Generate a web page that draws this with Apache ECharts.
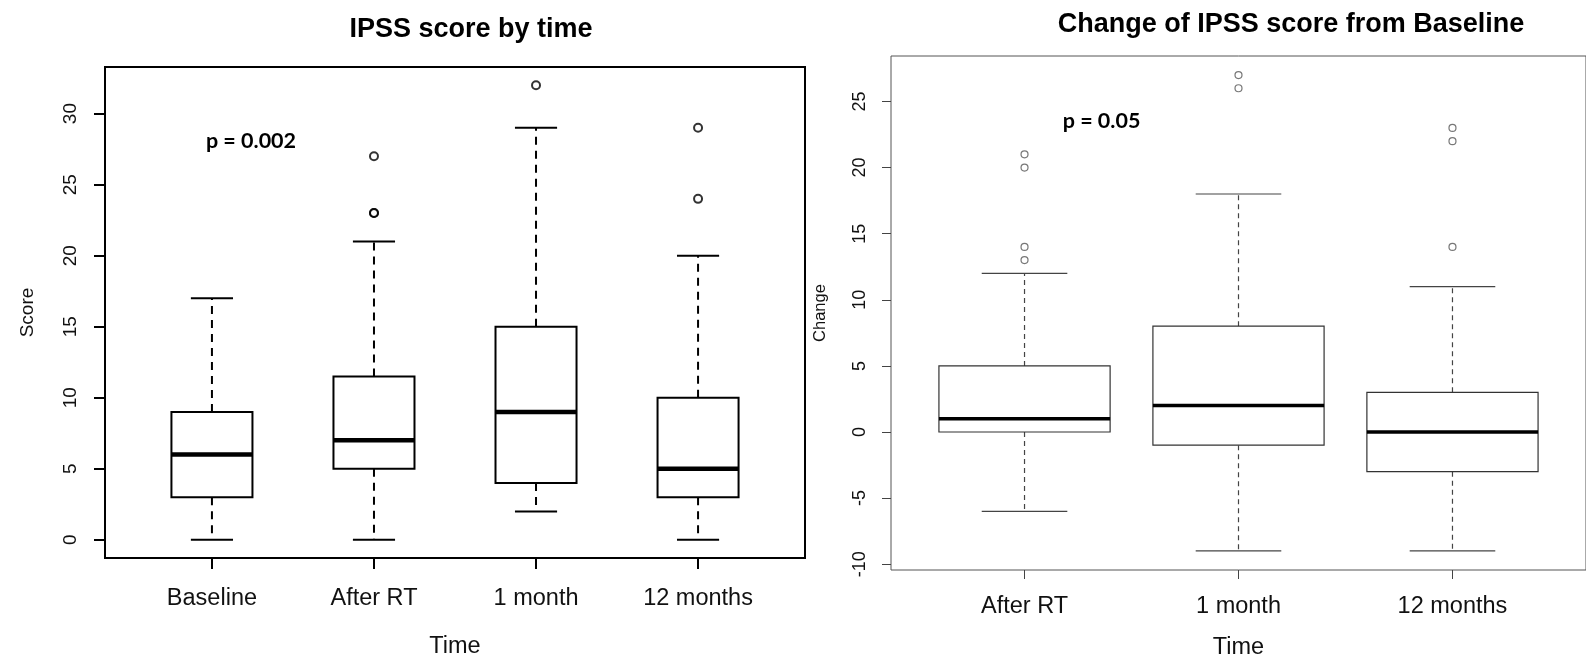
<!DOCTYPE html>
<html>
<head>
<meta charset="utf-8">
<script src="https://cdn.jsdelivr.net/npm/echarts@6/dist/echarts.min.js"></script>
<style>
html,body{margin:0;padding:0;background:#fff;}
#chart{width:1586px;height:665px;}
</style>
</head>
<body>
<div id="chart"></div>
<script>
// ---- Left panel: IPSS score by time ----
const leftCategories = ['Baseline', 'After RT', '1 month', '12 months'];
const leftWhiskerLow = [0, 0, 2, 0];
const leftQ1 = [3, 5, 4, 3];
const leftMedian = [6, 7, 9, 5];
const leftQ3 = [9, 11.5, 15, 10];
const leftWhiskerHigh = [17, 21, 29, 20];
const leftOutliers = [[], [23, 23, 27], [32], [24, 29]];
const leftYTicks = [0, 5, 10, 15, 20, 25, 30];
const leftPText = 'p = 0.002';

// ---- Right panel: Change of IPSS score from Baseline ----
const rightCategories = ['After RT', '1 month', '12 months'];
const rightWhiskerLow = [-6, -9, -9];
const rightQ1 = [0, -1, -3];
const rightMedian = [1, 2, 0];
const rightQ3 = [5, 8, 3];
const rightWhiskerHigh = [12, 18, 11];
const rightOutliers = [[13, 14, 20, 21], [26, 27], [14, 22, 23]];
const rightYTicks = [-10, -5, 0, 5, 10, 15, 20, 25];
const rightPText = 'p = 0.05';

// annotation anchors (data coordinates)
const leftPAnchor = [1.241, 28.1];
const rightPAnchor = [1.36, 23.5];

function boxData(low, q1, med, q3, high) {
  return low.map((v, i) => [i + 1, low[i], q1[i], med[i], q3[i], high[i]]);
}
function outlierData(outs) {
  const d = [];
  outs.forEach((arr, i) => arr.forEach(v => d.push([i + 1, v])));
  return d;
}

function boxRenderer(st) {
  return function (params, api) {
    const x = api.value(0);
    const cLo = api.coord([x, api.value(1)]);
    const cQ1 = api.coord([x, api.value(2)]);
    const cMed = api.coord([x, api.value(3)]);
    const cQ3 = api.coord([x, api.value(4)]);
    const cHi = api.coord([x, api.value(5)]);
    const cx = cMed[0];
    const half = api.size([st.boxHalf, 0])[0];
    const cap = api.size([st.capHalf, 0])[0];
    const wStyle = { stroke: st.whisker, lineWidth: st.lw, lineDash: st.dash, fill: null };
    const sStyle = { stroke: st.whisker, lineWidth: st.lw, fill: null };
    return {
      type: 'group',
      children: [
        { type: 'line', shape: { x1: cx, y1: cQ1[1], x2: cx, y2: cLo[1] }, style: wStyle },
        { type: 'line', shape: { x1: cx, y1: cQ3[1], x2: cx, y2: cHi[1] }, style: wStyle },
        { type: 'line', shape: { x1: cx - cap, y1: cLo[1], x2: cx + cap, y2: cLo[1] }, style: sStyle },
        { type: 'line', shape: { x1: cx - cap, y1: cHi[1], x2: cx + cap, y2: cHi[1] }, style: sStyle },
        { type: 'rect', shape: { x: cx - half, y: cQ3[1], width: 2 * half, height: cQ1[1] - cQ3[1] },
          style: { fill: '#fff', stroke: st.box, lineWidth: st.lw } },
        { type: 'line', shape: { x1: cx - half, y1: cMed[1], x2: cx + half, y2: cMed[1] },
          style: { stroke: '#000', lineWidth: st.medLw } }
      ]
    };
  };
}

function textRenderer(text, size) {
  return function (params, api) {
    const p = api.coord([api.value(0), api.value(1)]);
    return {
      type: 'text', x: p[0], y: p[1],
      style: { text: text, fontSize: size, fontWeight: 'bold', fontFamily: 'Lato', fill: '#000',
               align: 'center', verticalAlign: 'middle' }
    };
  };
}

const FONT = 'Liberation Sans, Arial, sans-serif';

const option = {
  animation: false,
  backgroundColor: '#fff',
  title: [
    { text: 'IPSS score by time', left: 466, top: 11, textAlign: 'center',
      textStyle: { fontFamily: FONT, fontWeight: 'bold', fontSize: 27, color: '#000' } },
    { text: 'Change of IPSS score from Baseline', left: 1286, top: 6, textAlign: 'center',
      textStyle: { fontFamily: FONT, fontWeight: 'bold', fontSize: 27, color: '#000' } }
  ],
  grid: [
    { left: 105, top: 67, width: 700, height: 491, show: true, borderColor: '#000', borderWidth: 2,
      backgroundColor: 'transparent', containLabel: false },
    { left: 891, top: 56, width: 719, height: 517, show: true, borderColor: '#555', borderWidth: 1,
      backgroundColor: 'transparent', containLabel: false }
  ],
  xAxis: [
    { gridIndex: 0, type: 'value', min: 0.34, max: 4.66, position: 'bottom',
      axisLine: { show: false, onZero: false }, splitLine: { show: false },
      axisTick: { show: true, inside: false, customValues: leftCategories.map((c, i) => i + 1), length: 11,
                  lineStyle: { color: '#000', width: 2 } },
      axisLabel: { customValues: leftCategories.map((c, i) => i + 1), margin: 29,
                   formatter: v => leftCategories[Math.round(v) - 1],
                   fontFamily: FONT, fontSize: 23.5, color: '#111' },
      name: 'Time', nameLocation: 'middle', nameGap: 77,
      nameTextStyle: { fontFamily: FONT, fontSize: 23.5, color: '#111' } },
    { gridIndex: 1, type: 'value', min: 0.376, max: 3.624, position: 'bottom',
      axisLine: { show: false, onZero: false }, splitLine: { show: false },
      axisTick: { show: true, inside: false, customValues: rightCategories.map((c, i) => i + 1), length: 9,
                  lineStyle: { color: '#444', width: 1 } },
      axisLabel: { customValues: rightCategories.map((c, i) => i + 1), margin: 25,
                   formatter: v => rightCategories[Math.round(v) - 1],
                   fontFamily: FONT, fontSize: 23.5, color: '#111' },
      name: 'Time', nameLocation: 'middle', nameGap: 66,
      nameTextStyle: { fontFamily: FONT, fontSize: 23.5, color: '#111' } }
  ],
  yAxis: [
    { gridIndex: 0, type: 'value', min: -1.28, max: 33.28, position: 'left',
      axisLine: { show: false, onZero: false }, splitLine: { show: false },
      axisTick: { show: true, customValues: leftYTicks, length: 11, lineStyle: { color: '#000', width: 2 } },
      axisLabel: { customValues: leftYTicks, rotate: 90, margin: 25,
                   fontFamily: FONT, fontSize: 19, color: '#111' },
      name: 'Score', nameLocation: 'middle', nameGap: 68, nameRotate: 90,
      nameTextStyle: { fontFamily: FONT, fontSize: 19, color: '#111' } },
    { gridIndex: 1, type: 'value', min: -10.44, max: 28.44, position: 'left',
      axisLine: { show: false, onZero: false }, splitLine: { show: false },
      axisTick: { show: true, customValues: rightYTicks, length: 9, lineStyle: { color: '#444', width: 1 } },
      axisLabel: { customValues: rightYTicks, rotate: 90, margin: 22,
                   fontFamily: FONT, fontSize: 18, color: '#111' },
      name: 'Change', nameLocation: 'middle', nameGap: 62, nameRotate: 90,
      nameTextStyle: { fontFamily: FONT, fontSize: 16.5, color: '#111' } }
  ],
  series: [
    { type: 'custom', xAxisIndex: 0, yAxisIndex: 0, silent: true,
      encode: { x: 0, y: [1, 2, 3, 4, 5] },
      data: boxData(leftWhiskerLow, leftQ1, leftMedian, leftQ3, leftWhiskerHigh),
      renderItem: boxRenderer({ boxHalf: 0.25, capHalf: 0.13, lw: 2, medLw: 4.5, dash: [8, 6],
                                box: '#000', whisker: '#000' }) },
    { type: 'scatter', xAxisIndex: 0, yAxisIndex: 0, silent: true,
      data: outlierData(leftOutliers), symbol: 'circle', symbolSize: 8,
      itemStyle: { color: 'rgba(0,0,0,0)', borderColor: '#000', borderWidth: 2 } },
    { type: 'custom', xAxisIndex: 0, yAxisIndex: 0, silent: true,
      data: [leftPAnchor], renderItem: textRenderer(leftPText, 21.5) },

    { type: 'custom', xAxisIndex: 1, yAxisIndex: 1, silent: true,
      encode: { x: 0, y: [1, 2, 3, 4, 5] },
      data: boxData(rightWhiskerLow, rightQ1, rightMedian, rightQ3, rightWhiskerHigh),
      renderItem: boxRenderer({ boxHalf: 0.4, capHalf: 0.2, lw: 1.2, medLw: 3.5, dash: [5, 4],
                                box: '#333', whisker: '#444' }) },
    { type: 'scatter', xAxisIndex: 1, yAxisIndex: 1, silent: true,
      data: outlierData(rightOutliers), symbol: 'circle', symbolSize: 7,
      itemStyle: { color: 'rgba(0,0,0,0)', borderColor: '#555', borderWidth: 1.2 } },
    { type: 'custom', xAxisIndex: 1, yAxisIndex: 1, silent: true,
      data: [rightPAnchor], renderItem: textRenderer(rightPText, 21.5) }
  ]
};

const chart = echarts.init(document.getElementById('chart'), null, { renderer: 'canvas' });
chart.setOption(option);
</script>
</body>
</html>
